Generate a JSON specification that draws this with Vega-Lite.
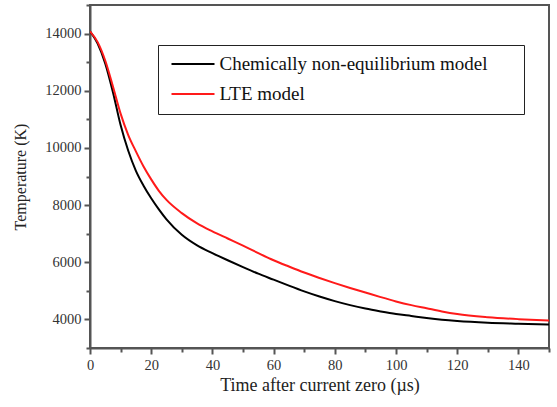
{
  "$schema": "https://vega.github.io/schema/vega-lite/v6.json",
  "width": 459,
  "height": 343,
  "autosize": "none",
  "padding": {"left": 90, "top": 5, "right": 8, "bottom": 59},
  "background": "white",
  "config": {
    "view": {"stroke": "#555555", "strokeWidth": 2},
    "font": "Liberation Serif",
    "axis": {"labelFont": "Liberation Serif", "titleFont": "Liberation Serif"},
    "legend": {"labelFont": "Liberation Serif"}
  },
  "data": {
    "values": [
      {"t": 0, "T": 14080, "model": "Chemically non-equilibrium model"},
      {"t": 2.5, "T": 13650, "model": "Chemically non-equilibrium model"},
      {"t": 5, "T": 12950, "model": "Chemically non-equilibrium model"},
      {"t": 7.5, "T": 11950, "model": "Chemically non-equilibrium model"},
      {"t": 10, "T": 10800, "model": "Chemically non-equilibrium model"},
      {"t": 12.5, "T": 9900, "model": "Chemically non-equilibrium model"},
      {"t": 15, "T": 9200, "model": "Chemically non-equilibrium model"},
      {"t": 17.5, "T": 8680, "model": "Chemically non-equilibrium model"},
      {"t": 20, "T": 8240, "model": "Chemically non-equilibrium model"},
      {"t": 22.5, "T": 7850, "model": "Chemically non-equilibrium model"},
      {"t": 25, "T": 7500, "model": "Chemically non-equilibrium model"},
      {"t": 30, "T": 6960, "model": "Chemically non-equilibrium model"},
      {"t": 35, "T": 6590, "model": "Chemically non-equilibrium model"},
      {"t": 40, "T": 6320, "model": "Chemically non-equilibrium model"},
      {"t": 45, "T": 6070, "model": "Chemically non-equilibrium model"},
      {"t": 50, "T": 5830, "model": "Chemically non-equilibrium model"},
      {"t": 55, "T": 5600, "model": "Chemically non-equilibrium model"},
      {"t": 60, "T": 5390, "model": "Chemically non-equilibrium model"},
      {"t": 65, "T": 5180, "model": "Chemically non-equilibrium model"},
      {"t": 70, "T": 4980, "model": "Chemically non-equilibrium model"},
      {"t": 75, "T": 4800, "model": "Chemically non-equilibrium model"},
      {"t": 80, "T": 4640, "model": "Chemically non-equilibrium model"},
      {"t": 85, "T": 4500, "model": "Chemically non-equilibrium model"},
      {"t": 90, "T": 4380, "model": "Chemically non-equilibrium model"},
      {"t": 95, "T": 4280, "model": "Chemically non-equilibrium model"},
      {"t": 100, "T": 4190, "model": "Chemically non-equilibrium model"},
      {"t": 105, "T": 4120, "model": "Chemically non-equilibrium model"},
      {"t": 110, "T": 4050, "model": "Chemically non-equilibrium model"},
      {"t": 115, "T": 3990, "model": "Chemically non-equilibrium model"},
      {"t": 120, "T": 3945, "model": "Chemically non-equilibrium model"},
      {"t": 130, "T": 3885, "model": "Chemically non-equilibrium model"},
      {"t": 140, "T": 3850, "model": "Chemically non-equilibrium model"},
      {"t": 150, "T": 3820, "model": "Chemically non-equilibrium model"},
      {"t": 0, "T": 14080, "model": "LTE model"},
      {"t": 2.5, "T": 13700, "model": "LTE model"},
      {"t": 5, "T": 13050, "model": "LTE model"},
      {"t": 7.5, "T": 12150, "model": "LTE model"},
      {"t": 10, "T": 11200, "model": "LTE model"},
      {"t": 12.5, "T": 10450, "model": "LTE model"},
      {"t": 15, "T": 9880, "model": "LTE model"},
      {"t": 17.5, "T": 9350, "model": "LTE model"},
      {"t": 20, "T": 8900, "model": "LTE model"},
      {"t": 22.5, "T": 8500, "model": "LTE model"},
      {"t": 25, "T": 8180, "model": "LTE model"},
      {"t": 30, "T": 7720, "model": "LTE model"},
      {"t": 35, "T": 7360, "model": "LTE model"},
      {"t": 40, "T": 7080, "model": "LTE model"},
      {"t": 45, "T": 6830, "model": "LTE model"},
      {"t": 50, "T": 6580, "model": "LTE model"},
      {"t": 55, "T": 6320, "model": "LTE model"},
      {"t": 60, "T": 6070, "model": "LTE model"},
      {"t": 65, "T": 5850, "model": "LTE model"},
      {"t": 70, "T": 5640, "model": "LTE model"},
      {"t": 75, "T": 5450, "model": "LTE model"},
      {"t": 80, "T": 5270, "model": "LTE model"},
      {"t": 85, "T": 5100, "model": "LTE model"},
      {"t": 90, "T": 4940, "model": "LTE model"},
      {"t": 95, "T": 4780, "model": "LTE model"},
      {"t": 100, "T": 4630, "model": "LTE model"},
      {"t": 105, "T": 4500, "model": "LTE model"},
      {"t": 110, "T": 4390, "model": "LTE model"},
      {"t": 115, "T": 4280, "model": "LTE model"},
      {"t": 120, "T": 4190, "model": "LTE model"},
      {"t": 130, "T": 4080, "model": "LTE model"},
      {"t": 140, "T": 4010, "model": "LTE model"},
      {"t": 150, "T": 3960, "model": "LTE model"}
    ]
  },
  "mark": {"type": "line", "strokeWidth": 2, "interpolate": "monotone", "clip": true},
  "encoding": {
    "x": {
      "field": "t",
      "type": "quantitative",
      "scale": {"domain": [0, 150], "nice": false, "zero": false},
      "axis": {
        "title": "Time after current zero (µs)",
        "titleFont": "Liberation Serif",
        "titleFontSize": 18,
        "titleFontWeight": "normal",
        "titleColor": "#222222",
        "titlePadding": 5,
        "values": [0, 10, 20, 30, 40, 50, 60, 70, 80, 90, 100, 110, 120, 130, 140, 150],
        "labelExpr": "datum.value % 20 === 0 ? datum.label : ''",
        "labelFont": "Liberation Serif",
        "labelFontSize": 14.5,
        "labelColor": "#333333",
        "labelPadding": 4,
        "labelOverlap": false,
        "labelFlush": false,
        "tickSize": {"condition": {"test": "datum.value % 20 === 0", "value": 6}, "value": 4},
        "tickColor": "#555555",
        "tickWidth": 2,
        "domainColor": "#555555",
        "domainWidth": 2,
        "grid": false
      }
    },
    "y": {
      "field": "T",
      "type": "quantitative",
      "scale": {"domain": [3000, 15000], "nice": false, "zero": false},
      "axis": {
        "title": "Temperature (K)",
        "titleFont": "Liberation Serif",
        "titleFontSize": 16,
        "titleFontWeight": "normal",
        "titleColor": "#222222",
        "titlePadding": 16,
        "values": [3000, 4000, 5000, 6000, 7000, 8000, 9000, 10000, 11000, 12000, 13000, 14000, 15000],
        "labelExpr": "datum.value % 2000 === 0 ? format(datum.value, 'd') : ''",
        "labelFont": "Liberation Serif",
        "labelFontSize": 14.5,
        "labelColor": "#333333",
        "labelPadding": 3,
        "labelOverlap": false,
        "labelFlush": false,
        "tickSize": {"condition": {"test": "datum.value % 2000 === 0", "value": 6}, "value": 4},
        "tickColor": "#555555",
        "tickWidth": 2,
        "domainColor": "#555555",
        "domainWidth": 2,
        "grid": false
      }
    },
    "color": {
      "field": "model",
      "type": "nominal",
      "scale": {"domain": ["Chemically non-equilibrium model", "LTE model"], "range": ["#000000", "#ff1a1a"]},
      "legend": {
        "title": null,
        "orient": "none",
        "legendX": 68,
        "legendY": 40,
        "symbolType": "M-4.3,0H4.3M63.5,0",
        "symbolSize": 100,
        "symbolStrokeWidth": 2,
        "symbolOffset": 16,
        "labelFont": "Liberation Serif",
        "labelFontSize": 19,
        "labelColor": "#111111",
        "labelOffset": 17,
        "labelLimit": 600,
        "rowPadding": 10,
        "padding": 9.5,
        "strokeColor": "#222222",
        "fillColor": "white"
      }
    }
  }
}
